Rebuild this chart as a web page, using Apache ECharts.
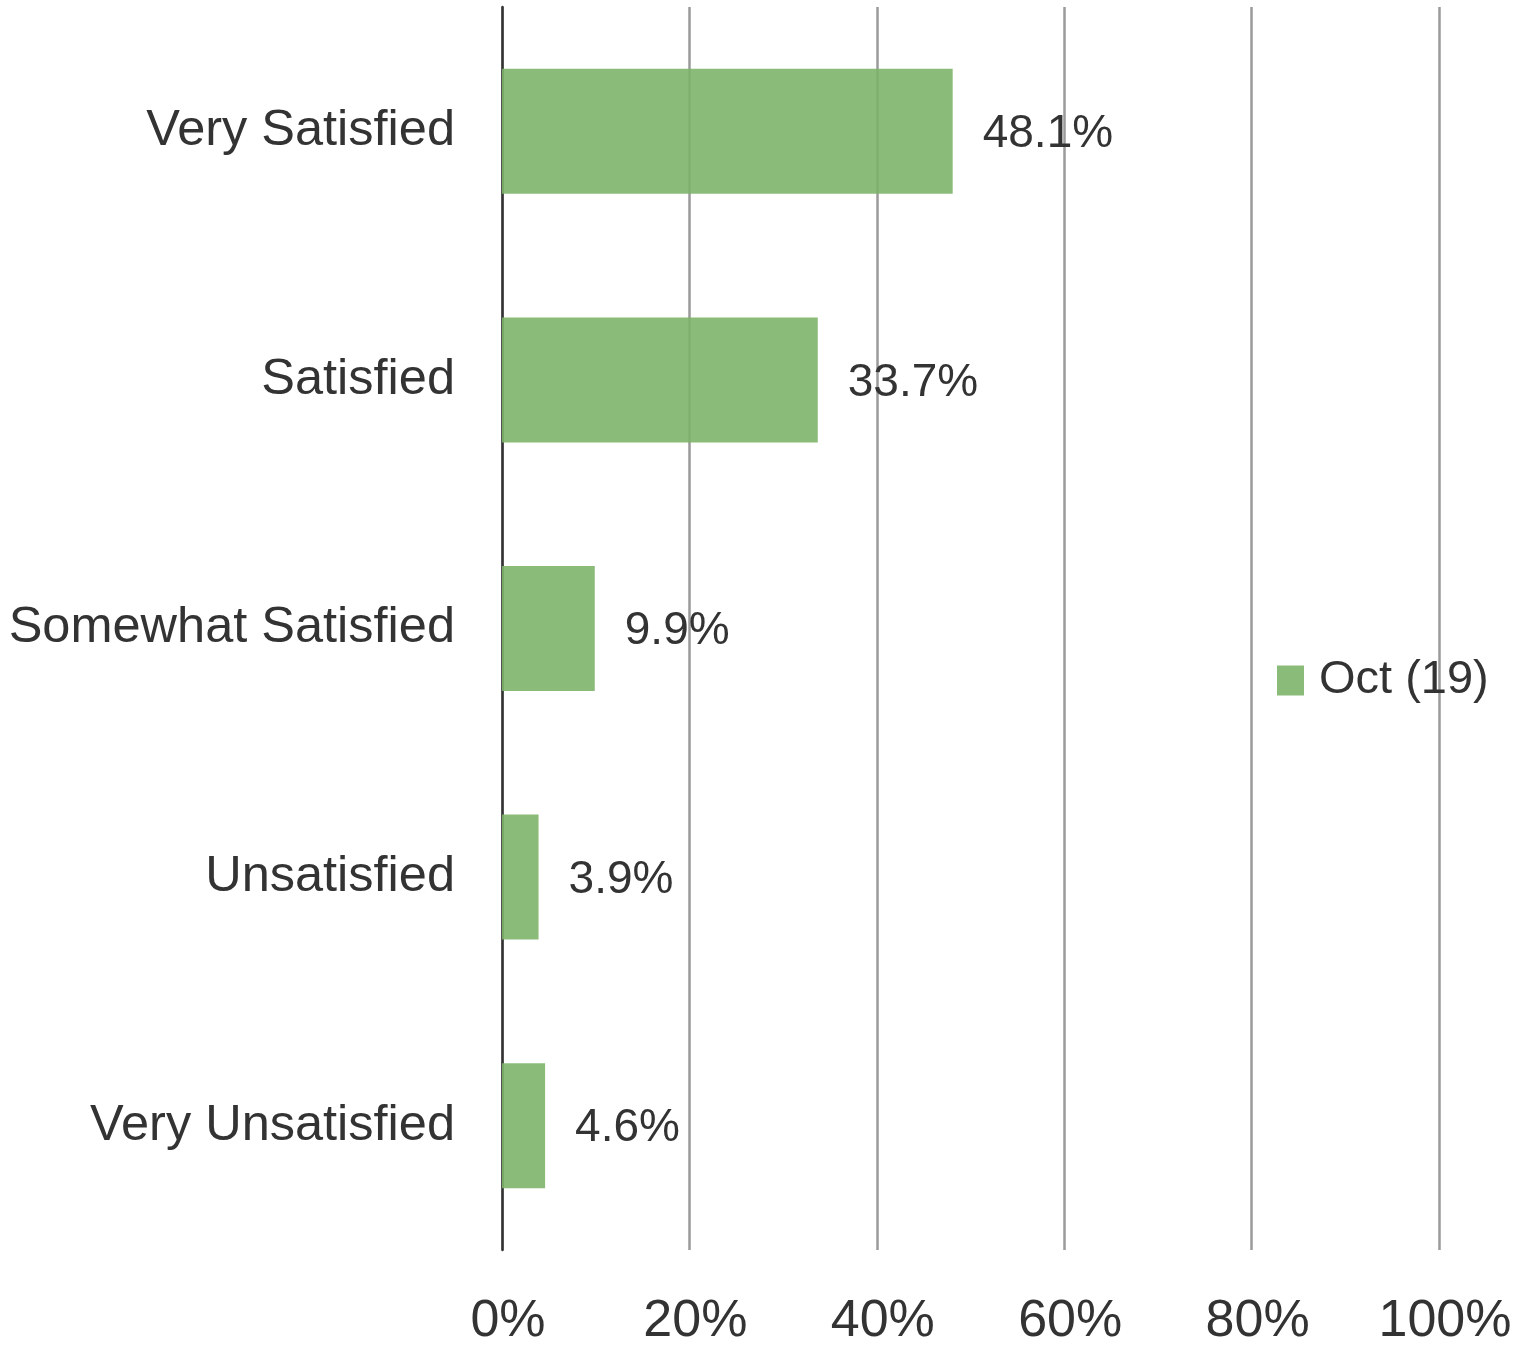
<!DOCTYPE html>
<html>
<head>
<meta charset="utf-8">
<script src="https://cdn.jsdelivr.net/npm/echarts@6/dist/echarts.min.js"></script>
<style>
  html, body { margin: 0; padding: 0; background: #fff; }
  #chart { width: 1527px; height: 1345px; }
</style>
</head>
<body>
<div id="chart"></div>
<script>
const categories = ['Very Satisfied', 'Satisfied', 'Somewhat Satisfied', 'Unsatisfied', 'Very Unsatisfied'];
const seriesName = 'Oct (19)';
const values = [48.1, 33.7, 9.9, 3.9, 4.6];
const xTicks = [0, 20, 40, 60, 80, 100];

const chart = echarts.init(document.getElementById('chart'));
const font = 'Liberation Sans, Arial, sans-serif';
const option = {
    animation: false,
    grid: { left: 502, right: 88, top: 7, bottom: 95, outerBoundsMode: 'none', containLabel: false },
    legend: {
        data: [seriesName],
        left: 1277,
        top: 657,
        padding: 0,
        itemWidth: 27,
        itemHeight: 30,
        itemGap: 0,
        icon: 'rect',
        textStyle: { fontFamily: font, fontSize: 47, color: '#333', padding: [0, 0, 0, 10] }
    },
    xAxis: {
        type: 'value',
        min: xTicks[0],
        max: xTicks[xTicks.length - 1],
        interval: 20,
        axisLine: { show: false },
        axisTick: { show: false },
        splitLine: { lineStyle: { color: '#9a9a9a', width: 2.5 } },
        axisLabel: {
            formatter: '{value}%',
            fontFamily: font,
            fontSize: 52,
            color: '#333',
            margin: 46,
            padding: [0, 0, 0, 12]
        }
    },
    yAxis: {
        type: 'category',
        data: categories,
        inverse: true,
        axisLine: { show: true, lineStyle: { color: '#333', width: 2.5 } },
        axisTick: { show: false },
        axisLabel: {
            fontFamily: font,
            fontSize: 50.5,
            color: '#333',
            margin: 47,
            padding: [8, 0, 0, 0]
        }
    },
    series: [{
        name: seriesName,
        type: 'bar',
        data: values,
        barWidth: 125,
        itemStyle: { color: 'rgba(126,180,105,0.9)' },
        label: {
            show: true,
            position: 'right',
            distance: 30,
            offset: [0, 3],
            formatter: p => p.value.toFixed(1) + '%',
            fontFamily: font,
            fontSize: 46,
            color: '#333'
        }
    }]
};
chart.setOption(option);
window.addEventListener('resize', () => chart.resize());
</script>
</body>
</html>
